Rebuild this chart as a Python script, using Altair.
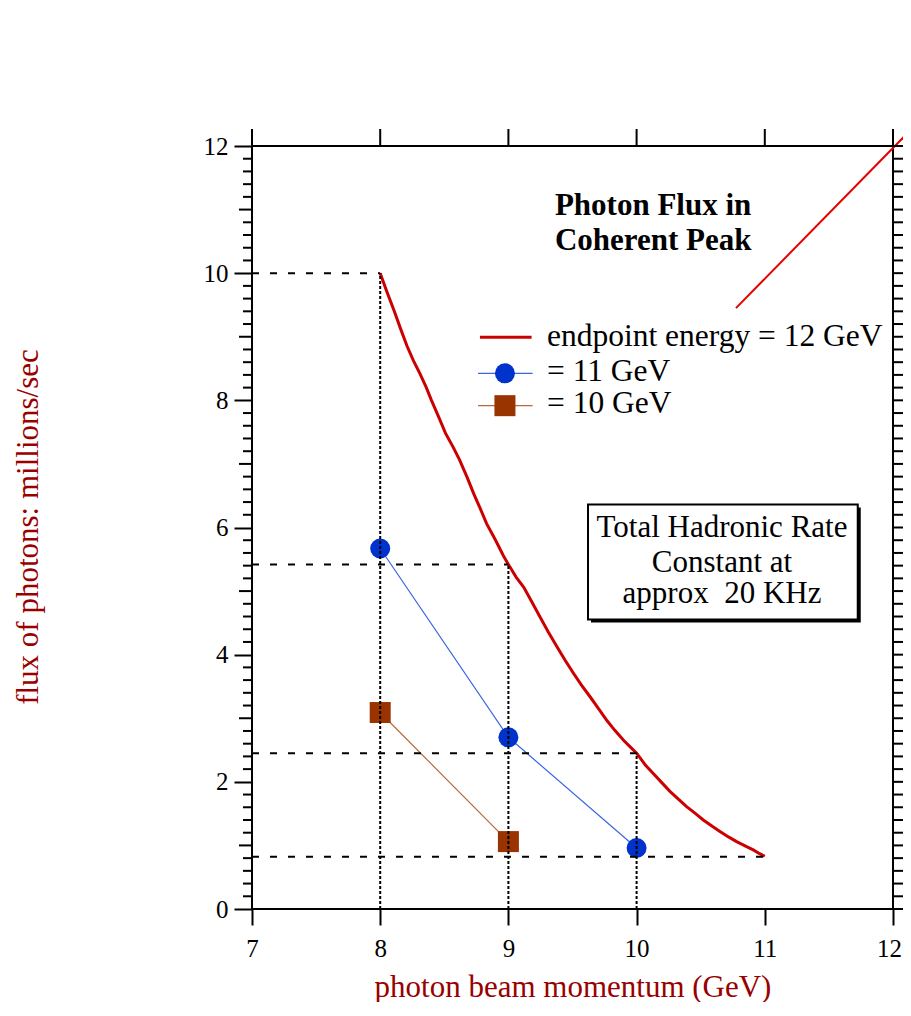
import altair as alt
import pandas as pd

# ---------------- data ----------------
# endpoint energy = 12 GeV (red curve)
curve_x = [8.00, 8.05, 8.11, 8.16, 8.21, 8.26, 8.31, 8.36, 8.40, 8.46, 8.51, 8.57, 8.62,
           8.68, 8.73, 8.78, 8.83, 8.90, 8.96, 9.00, 9.06, 9.12, 9.18, 9.25, 9.31, 9.38,
           9.44, 9.51, 9.57, 9.64, 9.70, 9.77, 9.83, 9.90, 9.95, 10.00, 10.07, 10.13,
           10.20, 10.26, 10.33, 10.39, 10.46, 10.52, 10.59, 10.65, 10.72, 10.78, 10.85,
           10.91, 10.96, 11.00]
curve_y = [10.00, 9.72, 9.40, 9.12, 8.85, 8.62, 8.42, 8.20, 8.00, 7.72, 7.48, 7.26, 7.06,
           6.78, 6.53, 6.30, 6.06, 5.80, 5.56, 5.42, 5.22, 5.06, 4.84, 4.58, 4.36, 4.12,
           3.92, 3.70, 3.52, 3.33, 3.16, 2.96, 2.81, 2.65, 2.55, 2.45, 2.26, 2.13,
           1.98, 1.85, 1.72, 1.61, 1.50, 1.40, 1.30, 1.22, 1.13, 1.06, 0.99,
           0.93, 0.87, 0.83]
# = 11 GeV
blue_x = [8, 9, 10]
blue_y = [5.67, 2.70, 0.96]
# = 10 GeV
brown_x = [8, 9]
brown_y = [3.09, 1.06]
# guide lines
dash_x_end = [8, 9, 10, 11]
dash_y = [10.0, 5.42, 2.45, 0.82]
dot_x = [8, 9, 10]
dot_y_top = [10.0, 5.42, 2.45]
# straight red line in the upper right
diag_x = [10.775, 12.2]
diag_y = [9.45, 12.38]
# ticks
y_major = [0, 2, 4, 6, 8, 10, 12]
y_mid = [1, 3, 5, 7, 9, 11]
y_minor = [round(i * 0.2, 1) for i in range(61) if i % 5 != 0]
x_major = [7, 8, 9, 10, 11, 12]

# texts
title_lines = ["Photon Flux in", "Coherent Peak"]
box_lines = ["Total Hadronic Rate", "Constant at", "approx\u00a0 20 KHz"]
legend_labels = ["endpoint energy = 12 GeV", "= 11 GeV", "= 10 GeV"]

# ---------------- styling ----------------
W, H = 641, 763
FONT = "Liberation Serif"
DARKRED = "#990000"
RED = "#cc0000"
BLUE = "#0033cc"
BLUE_LINE = "#3a66e0"
BROWN = "#993300"
BROWN_LINE = "#b8683c"

xs = alt.Scale(domain=[7, 12], nice=False, zero=False)
ys = alt.Scale(domain=[0, 12], nice=False, zero=False)

x_axis = alt.Axis(values=x_major, format="d", tickSize=16, tickWidth=2, tickColor="black",
                  domain=False, grid=False, labelFont=FONT, labelFontSize=25,
                  labelColor="black", labelPadding=11, labelFlush=False, labelOverlap=False,
                  labelOffset=alt.ExprRef(expr="datum.value == 12 ? -4 : 0"),
                  title="photon beam momentum (GeV)", titleFont=FONT, titleFontSize=31,
                  titleFontWeight="normal", titleColor=DARKRED, titleX=320.5, titleY=87,
                  titleBaseline="alphabetic", titleAlign="center")
y_axis = alt.Axis(values=y_major, format="d", tickSize=18, tickWidth=2, tickColor="black",
                  domain=False, grid=False, labelFont=FONT, labelFontSize=25,
                  labelColor="black", labelPadding=6, labelFlush=False, labelOverlap=False,
                  title="flux of photons: millions/sec", titleFont=FONT, titleFontSize=31,
                  titleFontWeight="normal", titleColor=DARKRED, titleAngle=270,
                  titleX=-215, titleY=380.5, titleBaseline="alphabetic", titleAlign="center")


def X(f):
    return alt.X(f, type="quantitative", scale=xs, axis=x_axis)


def Y(f):
    return alt.Y(f, type="quantitative", scale=ys, axis=y_axis)


df_curve = pd.DataFrame({"x": curve_x, "y": curve_y})
df_blue = pd.DataFrame({"x": blue_x, "y": blue_y})
df_brown = pd.DataFrame({"x": brown_x, "y": brown_y})
df_dash = pd.DataFrame({"x0": [7] * len(dash_y), "x1": dash_x_end, "y": dash_y})
df_dot = pd.DataFrame({"x": dot_x, "y0": [0] * len(dot_x), "y1": dot_y_top})
df_diag = pd.DataFrame({"x": [diag_x[0]], "x2": [diag_x[1]], "y": [diag_y[0]], "y2": [diag_y[1]]})

curve = alt.Chart(df_curve).mark_line(color=RED, strokeWidth=3).encode(x=X("x"), y=Y("y"))

blue_line = alt.Chart(df_blue).mark_line(color=BLUE_LINE, strokeWidth=1.2).encode(x=X("x"), y=Y("y"))
blue_pts = alt.Chart(df_blue).mark_point(shape="circle", filled=True, size=400, color=BLUE,
                                         opacity=1).encode(x=X("x"), y=Y("y"))
brown_line = alt.Chart(df_brown).mark_line(color=BROWN_LINE, strokeWidth=1.2).encode(x=X("x"), y=Y("y"))
brown_pts = alt.Chart(df_brown).mark_point(shape="square", filled=True, size=441, color=BROWN,
                                           opacity=1).encode(x=X("x"), y=Y("y"))

dashed = alt.Chart(df_dash).mark_rule(color="black", strokeWidth=2, strokeDash=[7, 11]).encode(
    x=X("x0"), x2="x1:Q", y=Y("y"))
dotted = alt.Chart(df_dot).mark_rule(color="black", strokeWidth=2, strokeDash=[3, 2]).encode(
    x=X("x"), y=Y("y0"), y2="y1:Q")

diag = alt.Chart(df_diag).mark_rule(color="#e60000", strokeWidth=2).encode(
    x=X("x"), x2="x2:Q", y=Y("y"), y2="y2:Q")


def hticks(vals, x0, x1):
    return alt.Chart(pd.DataFrame({"v": vals})).mark_rule(color="black", strokeWidth=2).encode(
        y=Y("v"), x=alt.value(x0), x2=alt.value(x1))


tick_layers = [
    hticks(y_minor, -9, 0), hticks(y_mid, -13, 0),
    hticks(y_minor, W, W + 10), hticks(y_mid, W, W + 14), hticks(y_major, W, W + 18),
    alt.Chart(pd.DataFrame({"v": x_major})).mark_rule(color="black", strokeWidth=2).encode(
        x=X("v"), y=alt.value(0), y2=alt.value(-17)),
]

# title annotation
df_title = pd.DataFrame({"x": [9.363, 9.363], "y": [10.91, 10.37], "t": title_lines})
title_txt = alt.Chart(df_title).mark_text(align="left", baseline="alphabetic", font=FONT,
                                          fontSize=31, fontWeight="bold", color="black").encode(
    x=X("x"), y=Y("y"), text="t:N")

# legend
df_leg_lines = pd.DataFrame({"x": [8.778, 8.763, 8.763], "x2": [9.181, 9.189, 9.189],
                             "y": [8.991, 8.425, 7.916], "c": [RED, BLUE_LINE, BROWN_LINE],
                             "w": [3, 1.2, 1.2]})
leg_lines = alt.Chart(df_leg_lines).mark_rule().encode(
    x=X("x"), x2="x2:Q", y=Y("y"), color=alt.Color("c:N", scale=None),
    strokeWidth=alt.StrokeWidth("w:Q", scale=None))
leg_circle = alt.Chart(pd.DataFrame({"x": [8.973], "y": [8.425]})).mark_point(
    shape="circle", filled=True, size=400, color=BLUE, opacity=1).encode(x=X("x"), y=Y("y"))
leg_square = alt.Chart(pd.DataFrame({"x": [8.973], "y": [7.916]})).mark_point(
    shape="square", filled=True, size=441, color=BROWN, opacity=1).encode(x=X("x"), y=Y("y"))
df_leg_txt = pd.DataFrame({"x": [9.301] * 3, "y": [8.855, 8.309, 7.796], "t": legend_labels})
leg_txt = alt.Chart(df_leg_txt).mark_text(align="left", baseline="alphabetic", font=FONT,
                                          fontSize=31.5, color="black").encode(
    x=X("x"), y=Y("y"), text="t:N")

# boxed note
df_box = pd.DataFrame({"x": [9.621], "x2": [11.725], "y": [6.363], "y2": [4.555]})
box_shadow = alt.Chart(df_box).mark_rect(color="black", xOffset=3, x2Offset=3, yOffset=3,
                                         y2Offset=3).encode(
    x=X("x"), x2="x2:Q", y=Y("y"), y2="y2:Q")
box = alt.Chart(df_box).mark_rect(fill="white", stroke="black", strokeWidth=2).encode(
    x=X("x"), x2="x2:Q", y=Y("y"), y2="y2:Q")
df_box_txt = pd.DataFrame({"x": [10.666] * 3, "y": [5.846, 5.305, 4.808], "t": box_lines})
box_txt = alt.Chart(df_box_txt).mark_text(align="center", baseline="alphabetic", font=FONT,
                                          fontSize=31, color="black").encode(
    x=X("x"), y=Y("y"), text="t:N")

layers = [curve, diag, blue_line, brown_line, blue_pts, brown_pts, dashed, dotted,
          *tick_layers, title_txt, leg_lines, leg_circle, leg_square, leg_txt,
          box_shadow, box, box_txt]

chart = alt.layer(*layers).properties(
    width=W, height=H,
    autosize=alt.AutoSizeParams(type="none"),
    padding={"left": 244, "top": 138, "right": 10, "bottom": 93},
).configure_view(stroke="black", strokeWidth=2)

chart.save("out.html", embed_options={"renderer": "svg", "actions": False})
